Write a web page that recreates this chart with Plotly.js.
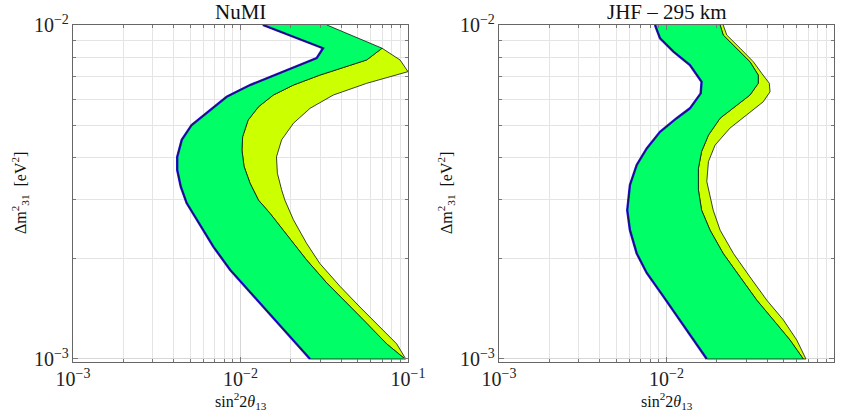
<!DOCTYPE html>
<html>
<head>
<meta charset="utf-8">
<script src="https://cdn.plot.ly/plotly-3.0.1.min.js"></script>
<style>html,body{margin:0;padding:0;background:#fff;}#chart{width:842px;height:417px;}</style>
</head>
<body>
<div id="chart"></div>
<script>
// ---------- NuMI panel ----------
// lower (left) boundary of the allowed region (blue edge)
const numiLowDm2 = [1.0e-2, 8.52e-3, 7.96e-3, 7.17e-3, 6.61e-3, 6.10e-3, 5.57e-3, 5.02e-3, 4.53e-3, 4.03e-3, 3.68e-3, 3.28e-3, 2.93e-3, 2.61e-3, 2.17e-3, 1.85e-3, 1.57e-3, 1.31e-3, 1.14e-3, 1.0e-3];
const numiLowS2t = [1.36e-2, 3.11e-2, 2.85e-2, 1.72e-2, 1.14e-2, 8.27e-3, 6.58e-3, 5.11e-3, 4.46e-3, 4.19e-3, 4.19e-3, 4.40e-3, 4.77e-3, 5.48e-3, 6.88e-3, 8.66e-3, 1.16e-2, 1.62e-2, 2.07e-2, 2.60e-2];
// green region right boundary
const numiMidDm2 = [1.0e-2, 8.52e-3, 7.86e-3, 7.08e-3, 6.61e-3, 6.17e-3, 5.69e-3, 5.19e-3, 4.63e-3, 4.22e-3, 3.77e-3, 3.36e-3, 2.99e-3, 2.73e-3, 2.43e-3, 2.22e-3, 1.98e-3, 1.69e-3, 1.47e-3, 1.28e-3, 1.11e-3, 1.0e-3];
const numiMidS2t = [3.28e-2, 7.00e-2, 5.67e-2, 2.98e-2, 2.07e-2, 1.57e-2, 1.28e-2, 1.11e-2, 1.03e-2, 1.02e-2, 1.05e-2, 1.14e-2, 1.28e-2, 1.50e-2, 1.80e-2, 2.07e-2, 2.48e-2, 3.27e-2, 4.31e-2, 5.67e-2, 7.46e-2, 9.60e-2];
// yellow region right boundary
const numiUpDm2 = [8.52e-3, 7.86e-3, 7.25e-3, 6.69e-3, 6.17e-3, 5.63e-3, 5.08e-3, 4.53e-3, 4.03e-3, 3.60e-3, 3.21e-3, 2.99e-3, 2.61e-3, 2.22e-3, 1.93e-3, 1.65e-3, 1.43e-3, 1.25e-3, 1.11e-3, 1.0e-3];
const numiUpS2t = [7.00e-2, 8.96e-2, 1.0e-1, 5.67e-2, 3.58e-2, 2.60e-2, 2.07e-2, 1.76e-2, 1.64e-2, 1.66e-2, 1.76e-2, 1.84e-2, 2.07e-2, 2.48e-2, 2.98e-2, 3.93e-2, 5.17e-2, 6.80e-2, 8.56e-2, 9.70e-2];

// ---------- JHF panel ----------
const jhfLowDm2 = [1.0e-2, 9.12e-3, 8.32e-3, 7.59e-3, 6.76e-3, 6.24e-3, 5.63e-3, 5.26e-3, 4.79e-3, 4.27e-3, 3.81e-3, 3.32e-3, 2.79e-3, 2.43e-3, 2.07e-3, 1.81e-3, 1.54e-3, 1.31e-3, 1.14e-3, 1.0e-3];
const jhfLowS2t = [8.54e-3, 9.15e-3, 1.10e-2, 1.38e-2, 1.62e-2, 1.60e-2, 1.38e-2, 1.15e-2, 9.15e-3, 7.62e-3, 6.64e-3, 6.05e-3, 5.83e-3, 6.05e-3, 6.64e-3, 7.62e-3, 9.57e-3, 1.20e-2, 1.45e-2, 1.74e-2];
const jhfMidDm2 = [1.0e-2, 9.33e-3, 8.52e-3, 7.76e-3, 7.08e-3, 6.69e-3, 6.17e-3, 5.76e-3, 5.26e-3, 4.68e-3, 4.18e-3, 3.72e-3, 3.21e-3, 2.79e-3, 2.43e-3, 2.07e-3, 1.76e-3, 1.50e-3, 1.31e-3, 1.14e-3, 1.0e-3];
const jhfMidS2t = [2.09e-2, 2.18e-2, 2.62e-2, 3.15e-2, 3.53e-2, 3.53e-2, 3.15e-2, 2.62e-2, 2.09e-2, 1.78e-2, 1.62e-2, 1.55e-2, 1.55e-2, 1.62e-2, 1.82e-2, 2.18e-2, 2.75e-2, 3.46e-2, 4.34e-2, 5.46e-2, 6.56e-2];
const jhfUpDm2 = [1.0e-2, 9.33e-3, 8.52e-3, 7.76e-3, 7.17e-3, 6.69e-3, 6.31e-3, 5.89e-3, 5.38e-3, 4.91e-3, 4.37e-3, 3.90e-3, 3.40e-3, 3.21e-3, 2.79e-3, 2.43e-3, 2.07e-3, 1.76e-3, 1.50e-3, 1.31e-3, 1.14e-3, 1.0e-3];
const jhfUpS2t = [2.18e-2, 2.29e-2, 2.75e-2, 3.30e-2, 3.70e-2, 4.11e-2, 4.15e-2, 3.78e-2, 3.01e-2, 2.39e-2, 1.95e-2, 1.78e-2, 1.74e-2, 1.78e-2, 1.90e-2, 2.09e-2, 2.51e-2, 3.15e-2, 3.97e-2, 4.98e-2, 5.99e-2, 6.80e-2];

const panelTitles = ['NuMI', 'JHF \u2013 295 km'];
const xTitle = 'sin<sup>2</sup>2<i>\u03b8</i><sub>13</sub>';
const yTitle = '\u0394m<sup>2</sup><sub>31</sub>  [eV<sup>2</sup>]';

const GREEN = '#00ff66', YELLOW = '#ccff00', BLUE = '#2a14dc', NAVY = '#15104a';
const SERIF = 'Liberation Serif';

function bandTraces(lowX, lowY, midX, midY, upX, upY, xa, ya) {
  // yellow: between green right boundary and yellow right boundary
  const topY = upY[0];
  const midSelX = [], midSelY = [];
  for (let i = 0; i < midY.length; i++) { if (midY[i] <= topY) { midSelX.push(midX[i]); midSelY.push(midY[i]); } }
  const yel = {
    x: upX.concat(midSelX.slice().reverse()),
    y: upY.concat(midSelY.slice().reverse()),
    xaxis: xa, yaxis: ya, mode: 'lines', fill: 'toself', fillcolor: YELLOW,
    line: {color: '#111', width: 0.8}, hoverinfo: 'skip', showlegend: false
  };
  const grn = {
    x: lowX.concat(midX.slice().reverse()),
    y: lowY.concat(midY.slice().reverse()),
    xaxis: xa, yaxis: ya, mode: 'lines', fill: 'toself', fillcolor: GREEN,
    line: {color: '#111', width: 0.8}, hoverinfo: 'skip', showlegend: false
  };
  const blu = {
    x: lowX, y: lowY, xaxis: xa, yaxis: ya, mode: 'lines',
    line: {color: BLUE, width: 2.4}, hoverinfo: 'skip', showlegend: false
  };
  const nav = {
    x: lowX, y: lowY, xaxis: xa, yaxis: ya, mode: 'lines',
    line: {color: NAVY, width: 1}, hoverinfo: 'skip', showlegend: false
  };
  return [yel, grn, blu, nav];
}

const traces = [].concat(
  bandTraces(numiLowS2t, numiLowDm2, numiMidS2t, numiMidDm2, numiUpS2t, numiUpDm2, 'x', 'y'),
  bandTraces(jhfLowS2t, jhfLowDm2, jhfMidS2t, jhfMidDm2, jhfUpS2t, jhfUpDm2, 'x2', 'y2')
);

function axisBase(extra) {
  return Object.assign({
    type: 'log', dtick: 1, exponentformat: 'power',
    showgrid: true, gridcolor: '#d6d6d6', gridwidth: 1,
    minor: {dtick: 'D1', showgrid: true, gridcolor: '#e4e4e4', gridwidth: 1, ticks: 'inside', ticklen: 3, tickcolor: '#777'},
    ticks: 'inside', ticklen: 5, tickcolor: '#777',
    showline: true, linecolor: '#666', linewidth: 1, mirror: 'allticks',
    zeroline: false,
    tickfont: {family: SERIF, size: 16, color: '#222'}
  }, extra);
}

const X1 = [73/842, 408/842], X2 = [499/842, 834/842];
const YD = [1 - 362/417, 1 - 25/417];

const layout = {
  width: 842, height: 417,
  margin: {l: 0, r: 0, t: 0, b: 0},
  paper_bgcolor: '#fff', plot_bgcolor: '#fff',
  showlegend: false,
  xaxis: axisBase({domain: X1, anchor: 'y', range: [-3, -1]}),
  yaxis: axisBase({domain: YD, anchor: 'x', range: [-3.009, -2]}),
  xaxis2: axisBase({domain: X2, anchor: 'y2', range: [-3, -1]}),
  yaxis2: axisBase({domain: YD, anchor: 'x2', range: [-3.009, -2]}),
  annotations: [
    {text: panelTitles[0], xref: 'paper', yref: 'paper', x: 240.5/842, y: 1 - 12/417, xanchor: 'center', yanchor: 'middle', showarrow: false, font: {family: SERIF, size: 21, color: '#111'}},
    {text: panelTitles[1], xref: 'paper', yref: 'paper', x: 666.5/842, y: 1 - 12/417, xanchor: 'center', yanchor: 'middle', showarrow: false, font: {family: SERIF, size: 21, color: '#111'}},
    {text: xTitle, xref: 'paper', yref: 'paper', x: 240.5/842, y: 1 - 401/417, xanchor: 'center', yanchor: 'middle', showarrow: false, font: {family: SERIF, size: 16, color: '#111'}},
    {text: xTitle, xref: 'paper', yref: 'paper', x: 666.5/842, y: 1 - 401/417, xanchor: 'center', yanchor: 'middle', showarrow: false, font: {family: SERIF, size: 16, color: '#111'}},
    {text: yTitle, xref: 'paper', yref: 'paper', x: 20/842, y: 1 - 193/417, xanchor: 'center', yanchor: 'middle', textangle: -90, showarrow: false, font: {family: SERIF, size: 16, color: '#111'}},
    {text: yTitle, xref: 'paper', yref: 'paper', x: 446/842, y: 1 - 193/417, xanchor: 'center', yanchor: 'middle', textangle: -90, showarrow: false, font: {family: SERIF, size: 16, color: '#111'}}
  ]
};

Plotly.newPlot('chart', traces, layout, {staticPlot: true, displayModeBar: false});
</script>
</body>
</html>
